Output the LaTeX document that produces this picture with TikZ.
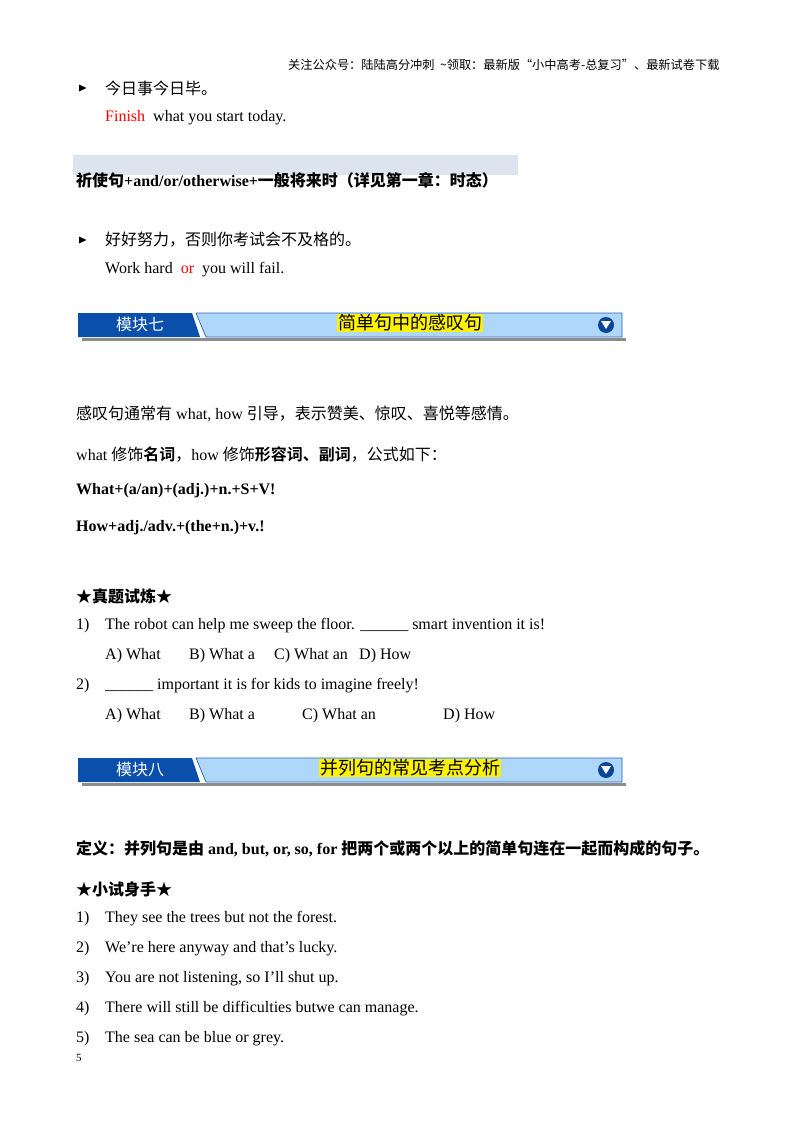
\documentclass[tikz,border=0pt]{standalone}
\usepackage{amssymb}
\usepackage{fontspec}
\setmainfont{Liberation Serif}
\newfontfamily\cjk{Noto Sans CJK SC}
\newfontfamily\cjkb{Noto Sans CJK SC Bold}
\definecolor{tabblue}{RGB}{10,80,170}
\definecolor{icoblue}{RGB}{10,70,150}
\definecolor{barblue}{RGB}{175,215,250}
\definecolor{barline}{RGB}{40,100,180}
\definecolor{greyband}{RGB}{220,228,240}
\begin{document}
\begin{tikzpicture}[x=1pt,y=-1pt,
  txt/.style={anchor=west,inner sep=0pt,font=\fontsize{16}{18}\selectfont},
  btxt/.style={anchor=west,inner sep=0pt,font=\fontsize{16}{18}\selectfont\bfseries},
  hdr/.style={anchor=west,inner sep=0pt,font=\fontsize{12.2}{14}\selectfont\cjk},
  tabtxt/.style={text=white,font=\fontsize{16}{18}\selectfont\cjk,inner sep=0pt},
  ttl/.style={fill=yellow,font=\fontsize{18}{20}\selectfont\cjk,inner sep=1pt}]
\useasboundingbox (0,0) rectangle (800,1132);
\fill[white] (0,0) rectangle (800,1132);
\newcommand\banner[4]{%
 \begin{scope}[yshift=#1]
 \fill[black!45] (82,338) rectangle (626,341);
 \filldraw[draw=barline, line width=0.7pt, fill=barblue] (196,313) -- (622,313) -- (622,337) -- (206,337) -- cycle;
 \fill[tabblue] (78,313) -- (192,313) -- (200,337) -- (78,337) -- cycle;
 \node[tabtxt] (t#4) at (140,324) {#2};
 \node[ttl] (h#4) at (410,323) {#3};
 \fill[icoblue] (606,325) circle (8);
 \fill[white] (601,321) -- (611,321) -- (606,329) -- cycle;
 \end{scope}}
\node[hdr] (h) at (288,65) {关注公众号：陆陆高分冲刺\ \ \~{}领取：最新版“小中高考-总复习”、最新试卷下载};
\node[txt] (a1) at (78,88) {\fontsize{12}{12}\selectfont$\blacktriangleright$};
\node[txt] (a2) at (105,88) {\cjk 今日事今日毕。};
\node[txt] (a3) at (105,118) {\textcolor{red}{Finish}\ \ what you start today.};
\fill[greyband] (73,155) rectangle (518,175);
\node[btxt] (b1) at (76,180) {\cjkb 祈使句\normalfont\bfseries+and/or/otherwise+\cjkb 一般将来时（详见第一章：时态）};
\node[txt] (c1) at (78,240) {\fontsize{12}{12}\selectfont$\blacktriangleright$};
\node[txt] (c2) at (105,240) {\cjk 好好努力，否则你考试会不及格的。};
\node[txt] (c3) at (105,270) {Work hard\ \ \textcolor{red}{or}\ \ you will fail.};
\banner{0pt}{模块七}{简单句中的感叹句}{7}
\node[txt] (d1) at (76,414) {\cjk 感叹句通常有\normalfont\ what, how \cjk 引导，表示赞美、惊叹、喜悦等感情。};
\node[txt] (d2) at (76,454) {what \cjk 修饰\cjkb 名词\cjk ，\normalfont how \cjk 修饰\cjkb 形容词、副词\cjk ，公式如下：};
\node[btxt] (d3) at (76,491) {What+(a/an)+(adj.)+n.+S+V!};
\node[btxt] (d4) at (76,528) {How+adj./adv.+(the+n.)+v.!};
\node[btxt] (e0) at (76,596) {\cjkb ★真题试炼★};
\node[txt] (e1) at (76,626) {1)};
\node[txt] (e2) at (105,626) {The robot can help me sweep the floor. \_\_\_\_\_\_ smart invention it is!};
\node[txt] (q1) at (105,656) {A) What};
\node[txt] (q2) at (189,656) {B) What a};
\node[txt] (q3) at (274,656) {C) What an};
\node[txt] (q4) at (359,656) {D) How};
\node[txt] (e4) at (76,686) {2)};
\node[txt] (e5) at (105,686) {\_\_\_\_\_\_ important it is for kids to imagine freely!};
\node[txt] (e6) at (105,716) {A) What};
\node[txt] (e7) at (189,716) {B) What a};
\node[txt] (e8) at (302,716) {C) What an};
\node[txt] (e9) at (443,716) {D) How};
\banner{-445pt}{模块八}{并列句的常见考点分析}{8}
\node[btxt] (f1) at (76,849) {\cjkb 定义：并列句是由\normalfont\bfseries\ and, but, or, so, for \cjkb 把两个或两个以上的简单句连在一起而构成的句子。};
\node[btxt] (f2) at (76,889) {\cjkb ★小试身手★};
\foreach \i/\s [count=\k] in {1/They see the trees but not the forest.,2/We’re here anyway and that’s lucky.,3/{You are not listening, so I’ll shut up.},4/There will still be difficulties butwe can manage.,5/The sea can be blue or grey.}{
  \node[txt] (n\k) at (76,889+30*\k) {\i)};
  \node[txt] (s\k) at (105,889+30*\k) {\s};}
\node[txt,font=\fontsize{11}{12}\selectfont] (pg) at (76,1058) {5};
\end{tikzpicture}
\end{document}
